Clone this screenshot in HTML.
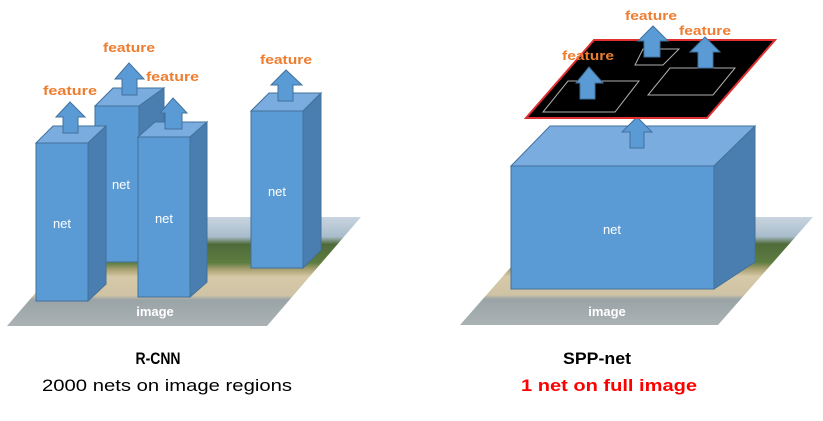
<!DOCTYPE html>
<html><head><meta charset="utf-8"><style>
html,body{margin:0;padding:0;background:#fff;}
svg{display:block;font-family:"Liberation Sans",sans-serif;}
</style></head><body>
<svg width="823" height="421" viewBox="0 0 823 421" xmlns="http://www.w3.org/2000/svg">
<defs>
<linearGradient id="ph" x1="0" y1="0" x2="0" y2="1">
<stop offset="0" stop-color="#c9d5e0"/>
<stop offset="0.18" stop-color="#a9bccb"/>
<stop offset="0.25" stop-color="#4f6b3a"/>
<stop offset="0.42" stop-color="#5d7d40"/>
<stop offset="0.48" stop-color="#a8a070"/>
<stop offset="0.55" stop-color="#d6c9a8"/>
<stop offset="0.72" stop-color="#cfc3a5"/>
<stop offset="0.76" stop-color="#9aa3a6"/>
<stop offset="1" stop-color="#aab2b4"/>
</linearGradient>
</defs>
<polygon points="101,217 361,217 267,326 7,326" fill="url(#ph)"/>
<polygon points="555,217 813,217 718,325 460,325" fill="url(#ph)"/>

<g stroke="#41719c" stroke-width="1">
<polygon points="95,106 113,88 164,88 139,106" fill="#7aacdf"/>
<polygon points="139,106 164,88 164,244 139,262" fill="#4a7eb0"/>
<rect x="95" y="106" width="44" height="156" fill="#5b9bd5"/>
<polygon points="251,111 269,93 321,93 303,111" fill="#7aacdf"/>
<polygon points="303,111 321,93 321,250 303,268" fill="#4a7eb0"/>
<rect x="251" y="111" width="52" height="157" fill="#5b9bd5"/>
<polygon points="138,137 155,122 207,122 190,137" fill="#7aacdf"/>
<polygon points="190,137 207,122 207,282 190,297" fill="#4a7eb0"/>
<rect x="138" y="137" width="52" height="160" fill="#5b9bd5"/>
<polygon points="36,143 53,126 106,126 88,143" fill="#7aacdf"/>
<polygon points="88,143 106,126 106,284 88,301" fill="#4a7eb0"/>
<rect x="36" y="143" width="52" height="158" fill="#5b9bd5"/>

<polygon points="63,133 63,117 56,117 70,102 85,117 78,117 78,133" fill="#5b9bd5"/>
<polygon points="122,95 122,79 115,79 129,63 144,79 137,79 137,95" fill="#5b9bd5"/>
<polygon points="165,129 165,113 160,113 173,98 187,113 182,113 182,129" fill="#5b9bd5"/>
<polygon points="278,101 278,85 271,85 286,70 302,85 293,85 293,101" fill="#5b9bd5"/>

<polygon points="511,166 550,126 755,126 714,166" fill="#7aacdf"/>
<polygon points="714,166 755,126 755,262 714,289" fill="#4a7eb0"/>
<rect x="511" y="166" width="203" height="123" fill="#5b9bd5"/>
<polygon points="630,148 630,132 622,132 637,117 652,132 644,132 644,148" fill="#5b9bd5"/>
</g>

<polygon points="594,40 775,40 707,118 526,118" fill="#000" stroke="#e03030" stroke-width="2"/>
<g fill="none" stroke="#b0b0b0" stroke-width="1">
<polygon points="543,112 615,112 639,81 568,81"/>
<polygon points="648,95 713,95 735,68 670,68"/>
<polygon points="635,65 663,65 679,49 643,49"/>
</g>
<g stroke="#41719c" stroke-width="1" fill="#5b9bd5">
<polygon points="580,99 580,83 576,83 589,67 603,83 595,83 595,99"/>
<polygon points="698,68 698,52 690,52 705,37 720,52 713,52 713,68"/>
<polygon points="644,57 644,41 638,41 653,26 668,41 660,41 660,57"/>
</g>

<g fill="#ed7d31" font-weight="bold" font-size="13">
<text x="43" y="95" textLength="54" lengthAdjust="spacingAndGlyphs">feature</text>
<text x="103" y="52" textLength="52" lengthAdjust="spacingAndGlyphs">feature</text>
<text x="146" y="81" textLength="53" lengthAdjust="spacingAndGlyphs">feature</text>
<text x="260" y="64" textLength="52" lengthAdjust="spacingAndGlyphs">feature</text>
<text x="562" y="60" textLength="52" lengthAdjust="spacingAndGlyphs">feature</text>
<text x="625" y="20" textLength="52" lengthAdjust="spacingAndGlyphs">feature</text>
<text x="679" y="35" textLength="52" lengthAdjust="spacingAndGlyphs">feature</text>
</g>
<g fill="#fff" font-size="13" text-anchor="middle">
<text x="62" y="228">net</text>
<text x="121" y="189">net</text>
<text x="164" y="223">net</text>
<text x="277" y="196">net</text>
<text x="612" y="234">net</text>
<text x="155" y="316" font-weight="bold">image</text>
<text x="607" y="316" font-weight="bold">image</text>
</g>

<g font-size="17" text-anchor="middle">
<text x="158" y="364" font-weight="bold" fill="#000" textLength="45" lengthAdjust="spacingAndGlyphs">R-CNN</text>
<text x="167" y="391" fill="#000" textLength="250" lengthAdjust="spacingAndGlyphs">2000 nets on image regions</text>
<text x="597" y="364" font-weight="bold" fill="#000" textLength="68" lengthAdjust="spacingAndGlyphs">SPP-net</text>
<text x="609" y="391" font-weight="bold" fill="#f00" textLength="176" lengthAdjust="spacingAndGlyphs">1 net on full image</text>
</g>
</svg>
</body></html>
